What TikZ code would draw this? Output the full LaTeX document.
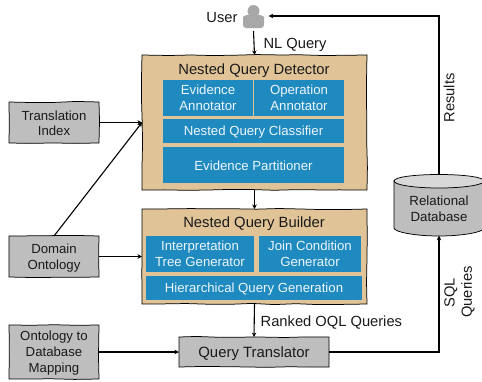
\documentclass[tikz,border=0pt]{standalone}
\usepackage{fontspec}
\setmainfont{Liberation Sans}
\usetikzlibrary{arrows.meta,decorations.pathmorphing,calc}
\definecolor{tan}{HTML}{E0C397}
\definecolor{blu}{HTML}{1F8AC0}
\definecolor{gry}{HTML}{BEBEBE}
\definecolor{usr}{HTML}{A8A8A8}
\definecolor{txt}{HTML}{1A1A1A}
\tikzset{
  sketch/.style={draw=black,line width=0.75pt,decorate,decoration={random steps,segment length=22pt,amplitude=0.6pt}},
  tanbox/.style={sketch,fill=tan,inner sep=0pt,outer sep=0pt},
  greybox/.style={sketch,fill=gry,inner sep=0pt,outer sep=0pt,align=center,font=\fontsize{13.2}{16}\selectfont,text=txt},
  bluebox/.style={fill=blu,inner sep=0pt,outer sep=0pt,align=center,font=\fontsize{13.2}{16}\selectfont,text=white!92!blu},
  head/.style={font=\fontsize{14.8}{16}\selectfont,text=txt,inner sep=0pt},
  lbl/.style={font=\fontsize{14.7}{17}\selectfont,text=txt,inner sep=0pt,align=center},
  dblbl/.style={font=\fontsize{13.3}{16}\selectfont,text=txt,inner sep=0pt,align=center},
  conn/.style={line width=1.1pt,-{Stealth[length=4.5pt,width=4.5pt]}}
}
\begin{document}
\begin{tikzpicture}[x=1pt,y=-1pt]
\pgfmathsetseed{7}
\useasboundingbox (0,0) rectangle (482,381);
\clip (0,0) rectangle (482,381);
% containers
\node[tanbox,minimum width=225pt,minimum height=135pt] (det) at (254.5,122.5) {};
\node[tanbox,minimum width=225pt,minimum height=95pt] (bld) at (254.5,256.5) {};
\node[head] (dett) at (254,70.5) {Nested Query Detector};
\node[head] (bldt) at (254,223.5) {Nested Query Builder};
% detector
\node[bluebox,minimum width=90pt,minimum height=36pt] (ev) at (208,98) {Evidence\\Annotator};
\node[bluebox,minimum width=90pt,minimum height=36pt] (op) at (299,98) {Operation\\Annotator};
\node[bluebox,minimum width=181pt,minimum height=24pt] (nqc) at (253.5,131) {};
\node[bluebox,minimum width=181pt,minimum height=36pt] (ep) at (253.5,165) {};
\node[bluebox,fill=none] (nqct) at (253.5,132) {Nested Query Classifier};
\node[bluebox,fill=none] (ept) at (253.5,166) {Evidence Partitioner};
% builder
\node[bluebox,minimum width=108pt,minimum height=36pt] (it) at (200,254) {Interpretation\\Tree Generator};
\node[bluebox,minimum width=102pt,minimum height=36pt] (jc) at (310,254) {Join Condition\\Generator};
\node[bluebox,minimum width=216pt,minimum height=24pt] (hq) at (254,288) {};
\node[bluebox,fill=none] (hqt) at (254,289) {Hierarchical Query Generation};
% grey boxes
\node[greybox,minimum width=90pt,minimum height=41pt] (ti) at (54,122.5) {};
\node[greybox,minimum width=90pt,minimum height=41pt] (dom) at (54,256.5) {};
\node[greybox,minimum width=90pt,minimum height=54pt] (map) at (54,352) {};
\node[greybox,minimum width=150pt,minimum height=30pt] (qt) at (254,352) {};
\node[dblbl,font=\fontsize{13.2}{15}\selectfont] (tit) at (54,123.5) {Translation\\Index};
\node[dblbl,font=\fontsize{13.2}{16}\selectfont] (domt) at (54,258.5) {Domain\\Ontology};
\node[dblbl,font=\fontsize{13.2}{16}\selectfont] (mapt) at (54,353) {Ontology to\\Database\\Mapping};
\node[dblbl,font=\fontsize{14.9}{16}\selectfont] (qtt) at (254,353.5) {Query Translator};
% database
\path[draw=black,line width=0.75pt,fill=gry] (394,181) -- (394,228) .. controls (394,232) and (415,236) .. (439,236) .. controls (463,236) and (484,232) .. (484,228) -- (484,181) -- cycle;
\path[draw=black,line width=0.75pt,fill=gry!60!white] (394,181) .. controls (394,177) and (415,174.5) .. (439,174.5) .. controls (463,174.5) and (484,177) .. (484,181) .. controls (484,185) and (463,188) .. (439,188) .. controls (415,188) and (394,185) .. (394,181) -- cycle;
\node[dblbl,minimum width=90pt,minimum height=61pt] (db) at (439,205) {};
\node[dblbl] (dbt) at (439,208.5) {Relational\\Database};
% user
\fill[usr] (253.5,11) circle (6pt);
\fill[usr,rounded corners=3pt] (243,28) -- (243,20) .. controls (243,16) and (248,14.5) .. (253.5,14.5) .. controls (259,14.5) and (264,16) .. (264,20) -- (264,28) -- cycle;
\node[inner sep=0pt,minimum width=30pt,minimum height=24pt] (user) at (253.5,16) {};
\node[lbl] (usert) at (222,18) {User};
% labels
\node[lbl] (nl) at (295,45) {NL Query};
\node[lbl,anchor=west] (rk) at (260.5,323) {Ranked OQL Queries};
\node[lbl,rotate=90] (res) at (449,98) {Results};
\node[lbl,rotate=90] (sql) at (451,293) {SQL};
\node[lbl,rotate=90] (qr) at (468,292) {Queries};
% connectors
\coordinate (utop) at (253.5,31);
\draw[conn] (utop) -- (det.north);
\draw[conn] (det.south) -- (bld.north);
\draw[conn] (bld.south) -- (qt.north);
\draw[conn] (ti.east) -- (det.west);
\draw[conn] (dom.north) -- (det.west);
\draw[conn] (dom.east) -- (bld.west);
\draw[conn] (map.east) -- (qt.west);
\draw[conn] (qt.east) -| (db.south);
\draw[conn] (db.north) |- (user.east);
\end{tikzpicture}
\end{document}
